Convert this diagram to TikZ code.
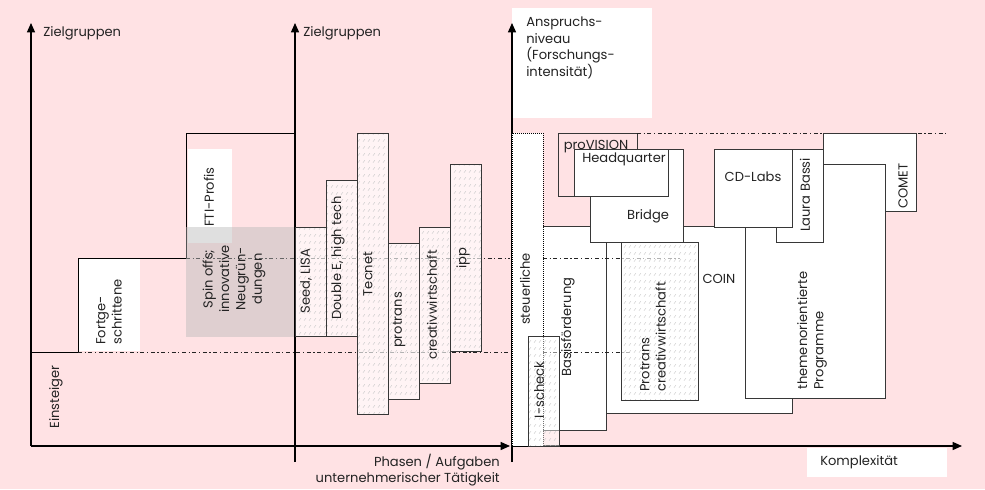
\documentclass[tikz,border=0pt]{standalone}
\usepackage{fontspec}
\setmainfont{Poppins}
\usetikzlibrary{patterns.meta,arrows.meta}
\definecolor{bgpink}{RGB}{255,226,228}
\definecolor{ink}{RGB}{35,35,35}
\definecolor{boxline}{RGB}{55,55,55}
\definecolor{spingrey}{RGB}{185,185,185}
\tikzdeclarepattern{
  name=hatchdash,
  type=uncolored,
  bottom left={(0pt,0pt)},
  top right={(4pt,5pt)},
  tile size={(4pt,5pt)},
  code={\draw[line width=0.3pt] (0.8pt,1pt) -- (2.4pt,3pt);}
}
\begin{document}
\begin{tikzpicture}[x=0.75pt,y=-0.75pt,
  every node/.style={font=\fontsize{9.8}{12.3}\selectfont, text=ink, inner sep=0pt},
  axisline/.style={draw=black, line width=1pt},
  axisarrow/.style={axisline, -{Triangle[length=7pt,width=6pt]}},
  stepline/.style={draw=black, line width=0.75pt},
  whitebox/.style={fill=white, draw=boxline, line width=0.75pt},
  pinkbox/.style={fill=bgpink, draw=boxline, line width=0.75pt},
  hatchbox/.style={preaction={fill=white, fill opacity=0.65}, pattern=hatchdash, pattern color=gray!45, draw=boxline, line width=0.75pt},
  hatchboxlight/.style={preaction={fill=white, fill opacity=0.45}, pattern=hatchdash, pattern color=gray!45, draw=boxline, line width=0.75pt},
  dashdot/.style={draw=ink, line width=0.6pt, dash pattern=on 3pt off 2pt on 0.8pt off 2pt},
  dotbox/.style={fill=white, draw=black, line width=0.6pt, dash pattern=on 0.6pt off 0.9pt},
  vlabel/.style={rotate=90}
]
\fill[bgpink] (0,0) rectangle (985,489);
\useasboundingbox (0,0) rectangle (985,489);

% ---------- coordinates of axes
\coordinate (L0) at (31,446);
\coordinate (L1) at (31,23);
\coordinate (M0) at (295,462);
\coordinate (M1) at (295,23);
\coordinate (H0) at (31,446);
\coordinate (H1) at (510,446);
\coordinate (R0) at (512,462);
\coordinate (R1) at (512,23);
\coordinate (K0) at (512,446);
\coordinate (K1) at (962,446);

% ---------- backgrounds
\fill[white] (79,259) rectangle (140,351);
\fill[white] (188,149) rectangle (232,243);
\fill[white] (512,8) rectangle (652,118);
\fill[white] (807,448) rectangle (947,477);

% steps
\draw[stepline] (31,352) -- (78,352) -- (78,258) -- (186,258) -- (186,133) -- (295,133);

% dash-dot levels (middle panel)
\draw[dashdot] (78,352) -- (510,352);
\draw[dashdot] (186,258) -- (510,258);

% spin-off grey overlay
\fill[spingrey, fill opacity=0.45] (186,227) rectangle (295,337);

% ---------- axes
\draw[axisarrow] (L0) -- (L1);
\draw[axisline] (M0) -- (295,446);
\draw[axisarrow] (295,446) -- (M1);
\draw[axisarrow] (H0) -- (H1);
\draw[axisline] (R0) -- (K0);
\draw[axisarrow] (K0) -- (R1);
\draw[axisarrow] (K0) -- (K1);

% ---------- middle panel hatched boxes
\draw[hatchbox] (295,227) rectangle (326,336);
\draw[hatchbox] (326,180) rectangle (357,336);
\draw[hatchbox] (357,133) rectangle (388,414);
\draw[hatchbox] (388,243) rectangle (419,399);
\draw[hatchbox] (419,227) rectangle (450,383);
\draw[hatchbox] (450,164) rectangle (481,351);

% ---------- right panel
\fill[white] (543,226) rectangle (606,430);
\draw[boxline, line width=0.75pt] (543,226) -- (606,226) -- (606,430) -- (543,430);
\draw[whitebox] (606,226) rectangle (792,413);
\draw[dotbox] (512,133) rectangle (543,446);
\draw[dashdot] (543,258) -- (680,258);
\draw[dashdot] (543,352) -- (630,352);
\draw[hatchbox] (621,242) rectangle (698,400);
\draw[whitebox] (590,149) rectangle (683,242);
\draw[pinkbox] (558,133) rectangle (637,196);
\node[anchor=base] (provision) at (596,149.5) {proVISION};
\draw[whitebox] (574,149) rectangle (668,196);
\draw[dashdot] (637,133) -- (948,133);
\draw[whitebox] (823,133) rectangle (916,211);
\draw[whitebox] (745,164) rectangle (885,398);
\draw[whitebox] (776,149) rectangle (823,242);
\draw[whitebox] (714,149) rectangle (792,227);
\draw[hatchboxlight] (528,336) rectangle (559,446);

% ---------- labels
\node[anchor=west] (zg1) at (43,33) {Zielgruppen};
\node[anchor=west] (zg2) at (303,33) {Zielgruppen};
\node[anchor=north west, align=left] (ansp) at (526,17) {Anspruchs-\\niveau\\(Forschungs-\\intensität)};
\node[anchor=north east, align=right] (phasen) at (500,454) {Phasen / Aufgaben\\unternehmerischer Tätigkeit};
\node[anchor=west] (kompl) at (820,462) {Komplexität};

\node[vlabel] (einst) at (56,397) {Einsteiger};
\node[vlabel, anchor=west, align=left] (fortg) at (109,345) {Fortge-\\schrittene};
\node[vlabel, align=center] (spin) at (234,279) {Spin offs;\\innovative\\Neugrün-\\dungen};
\node[vlabel] (fti) at (209,197) {FTI-Profis};

\node[vlabel] (seed) at (306,281) {Seed, LISA};
\node[vlabel] (double) at (338,258) {Double E, high tech};
\node[vlabel] (tecnet) at (368,274) {Tecnet};
\node[vlabel] (protrans) at (399,320) {protrans};
\node[vlabel] (creativ) at (432,305) {creativwirtschaft};
\node[vlabel] (ipp) at (463,258) {ipp};

\node[vlabel] (steuer) at (525,289) {steuerliche};
\node[vlabel] (basis) at (568,327) {Basisförderung};
\node[vlabel] (ischeck) at (539,390) {I-scheck};
\node[vlabel, anchor=west, align=left] (protrans2) at (653,392) {Protrans\\creativwirtschaft};
\node (coin) at (719,279) {COIN};
\node[vlabel, anchor=west, align=left] (themen) at (812,390) {themenorientierte\\Programme};
\node[vlabel] (laura) at (805,195) {Laura Bassi};
\node[vlabel] (comet) at (903,186) {COMET};
\node (cdlabs) at (753,177) {CD-Labs};
\node (bridge) at (648,216) {Bridge};
\node (hq) at (624,159) {Headquarter};
\end{tikzpicture}
\end{document}
